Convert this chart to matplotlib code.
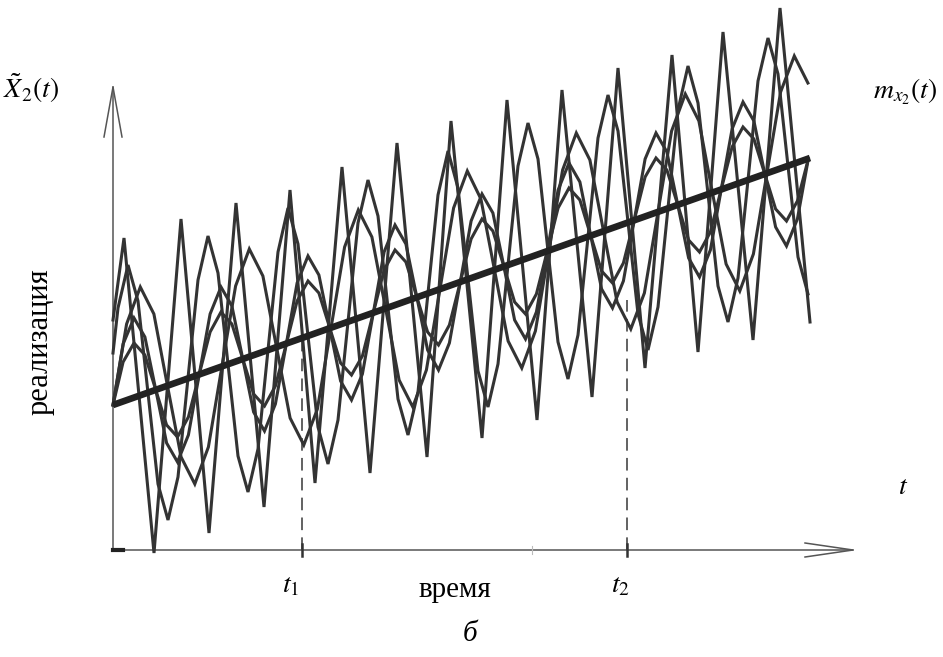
import numpy as np
import matplotlib
matplotlib.use("Agg")
import matplotlib.pyplot as plt

plt.rcParams['mathtext.fontset'] = 'stix'
plt.rcParams['font.family'] = ['Liberation Serif', 'DejaVu Serif']

# time runs 0..697, value 0 is the time axis
# realization A - fast, large swing (peaks / troughs)
t_a = [0, 11, 41, 68, 96, 123, 151, 177, 202, 229, 257, 284, 314, 338, 369, 394,
       424, 449, 479, 505, 532, 559, 585, 610, 640, 667, 697]
v_a = [230, 312, -3, 331, 17, 347, 43, 360, 67, 383, 77, 407, 93, 429, 112, 450,
       130, 460, 153, 482, 182, 495, 198, 518, 210, 542, 228]

# realization B
t_b = [0] + list(range(5, 700, 10))
v_b = [197, 242, 285, 249, 157, 66, 30, 73, 172, 270, 314, 277, 186, 94, 58, 101,
       200, 298, 342, 306, 214, 123, 86, 130, 228, 327, 370, 334, 242, 151, 115, 158,
       257, 355, 399, 362, 271, 179, 143, 186, 285, 384, 427, 391, 299, 208, 171, 215,
       313, 412, 455, 419, 328, 236, 200, 243, 342, 440, 484, 447, 356, 264, 228, 272,
       370, 469, 512, 476, 384, 293, 256]

# realization C - slow
t_c = [0, 13.6, 27.3, 40.9, 54.5, 68.1, 81.8, 95.4, 109.0, 122.6, 136.3, 149.9,
       163.5, 177.1, 190.8, 204.4, 218.0, 231.6, 245.3, 258.9, 272.5, 286.1, 299.8,
       313.4, 327.0, 340.6, 354.3, 367.9, 381.5, 395.1, 408.8, 422.4, 436.0, 449.6,
       463.3, 476.9, 490.5, 504.1, 517.8, 531.4, 545.0, 558.6, 572.3, 585.9, 599.5,
       613.1, 626.8, 640.4, 654.0, 667.6, 681.3, 694.9]
v_c = [145, 226, 263, 236, 164, 93, 66, 103, 184, 264, 301, 274, 203, 132, 105, 141,
       222, 303, 340, 313, 242, 170, 143, 180, 261, 342, 379, 351, 280, 209, 182, 219,
       300, 380, 417, 390, 319, 248, 221, 257, 338, 419, 456, 429, 357, 286, 259, 296,
       377, 458, 494, 467]

# realizations D and E - same rhythm, nested arcs
t_de = [0, 10.1, 21.0, 31.9, 42.8, 53.6, 64.5, 75.4, 86.3, 97.1, 108.0, 118.9, 129.8,
        140.6, 151.5, 162.4, 173.3, 184.1, 195.0, 205.9, 216.8, 227.6, 238.5, 249.4,
        260.3, 271.1, 282.0, 292.9, 303.8, 314.6, 325.5, 336.4, 347.3, 358.1, 369.0,
        379.9, 390.8, 401.6, 412.5, 423.4, 434.3, 445.1, 456.0, 466.9, 477.8, 488.6,
        499.5, 510.4, 521.3, 532.1, 543.0, 553.9, 564.8, 575.6, 586.5, 597.4, 608.3,
        619.1, 630.0, 640.9, 651.8, 662.6, 673.5, 684.4, 695.3]
v_d = [145, 206, 232, 213, 160, 107, 88, 115, 176, 236, 263, 244, 191, 138, 119, 146,
       206, 267, 294, 275, 222, 169, 150, 176, 237, 298, 325, 306, 253, 200, 180, 207,
       268, 329, 356, 337, 284, 230, 211, 238, 299, 360, 387, 368, 314, 261, 242, 269,
       330, 391, 417, 398, 345, 292, 273, 300, 361, 421, 448, 429, 376, 323, 304, 331,
       391]
v_e = [145, 188, 207, 195, 160, 125, 113, 133, 176, 218, 238, 226, 191, 156, 144, 164,
       206, 249, 269, 257, 222, 187, 175, 194, 237, 280, 300, 288, 253, 218, 205, 225,
       268, 311, 331, 319, 284, 248, 236, 256, 299, 342, 362, 350, 314, 279, 267, 287,
       330, 373, 392, 380, 345, 310, 298, 318, 361, 403, 423, 411, 376, 341, 329, 349,
       391]

# mean m_x2(t)
t_m = [0, 697]
v_m = [145, 392]

# marked moments t1, t2 and how high the dashes go
t_marks = [189, 514]
dash_top = [215, 250]

fig = plt.figure(figsize=(9.43, 6.57), dpi=100)
ax = fig.add_axes([0, 0, 1, 1])
ax.set_xlim(-113, 830)
ax.set_ylim(-107, 550)
ax.axis('off')

ink = '#333333'
axc = '#555555'

# axes with open arrow heads
ax.plot([0, 0], [0, 463], color=axc, lw=1.1)
ax.plot([-9, 0, 9], [413, 463, 413], color=axc, lw=1.1)
ax.plot([0, 740], [0, 0], color=axc, lw=1.1)
ax.plot([692, 740, 692], [7, 0, -7], color=axc, lw=1.1)
ax.plot([0, 10], [0, 0], color='#222222', lw=3)

for tm, top in zip(t_marks, dash_top):
    ax.plot([tm, tm], [0, top], color=axc, lw=1.3, ls=(0, (7, 4)), zorder=1)
    ax.plot([tm, tm], [-6, 6], color='#333333', lw=1.8)
ax.plot([419, 419], [-4, 4], color='#bbbbbb', lw=0.8)

for t, v in [(t_a, v_a), (t_b, v_b), (t_c, v_c), (t_de, v_d), (t_de, v_e)]:
    ax.plot(t, v, color=ink, lw=2.2, solid_joinstyle='miter', zorder=2)

ax.plot(t_m, v_m, color='#222222', lw=4.8, solid_capstyle='butt', zorder=3)

# labels
ax.text(-82, 462, r'$\tilde{X}_2(t)$', fontsize=20, ha='center', va='center')
ax.text(792, 458, r'$m_{x_2}(t)$', fontsize=20, ha='center', va='center')
ax.text(790, 62, r'$t$', fontsize=20, ha='center', va='center')
ax.text(178, -36, r'$t_1$', fontsize=20, ha='center', va='center')
ax.text(507, -36, r'$t_2$', fontsize=20, ha='center', va='center')
ax.text(342, -40, 'время', fontsize=21, ha='center', va='center')
ax.text(357, -84, 'б', fontsize=21, style='italic', ha='center', va='center')
ax.text(-73, 208, 'реализация', fontsize=22, rotation=90, ha='center', va='center')

fig.savefig('out.png', dpi=100, facecolor='white')
